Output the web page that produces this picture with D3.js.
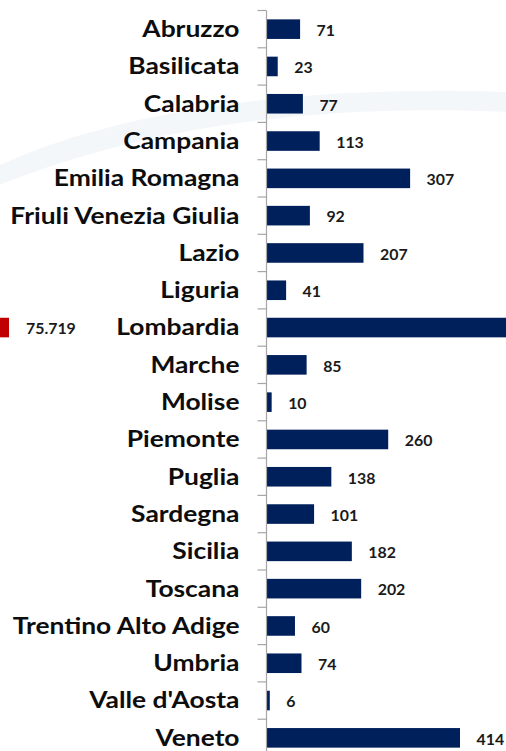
<!DOCTYPE html>
<html>
	<head>
		<meta charset="utf-8">
		<script src="https://cdnjs.cloudflare.com/ajax/libs/d3/7.8.5/d3.min.js" charset="utf-8"></script>
		<style>
			html, body { margin: 0; padding: 0; background: #ffffff; overflow: hidden; }
			.catLabel {
				font-family: 'Lato';
				font-size: 22px;
				font-weight: bold;
				fill: #0d0d0d;
			}
			.valLabel {
				font-family: 'Lato';
				font-size: 15px;
				font-weight: bold;
				fill: #1a1a1a;
			}
		</style>
	</head>
	<body>

		<div id="chart"></div>

		<script>

			///////////////////////////////////////////////////////////////////////////
			//////////////////////////////// Data /////////////////////////////////////
			///////////////////////////////////////////////////////////////////////////

			var regions = ["Abruzzo", "Basilicata", "Calabria", "Campania", "Emilia Romagna",
				"Friuli Venezia Giulia", "Lazio", "Liguria", "Lombardia", "Marche", "Molise",
				"Piemonte", "Puglia", "Sardegna", "Sicilia", "Toscana", "Trentino Alto Adige",
				"Umbria", "Valle d'Aosta", "Veneto"];
			var values = [71, 23, 77, 113, 307, 92, 207, 41, 75719, 85, 10, 260, 138, 101, 182, 202, 60, 74, 6, 414];
			var valueLabels = ["71", "23", "77", "113", "307", "92", "207", "41", "75.719", "85", "10",
				"260", "138", "101", "182", "202", "60", "74", "6", "414"];
			//the one bar that runs off the chart
			var outlier = "Lombardia";

			///////////////////////////////////////////////////////////////////////////
			//////////////////////////////// Setup ////////////////////////////////////
			///////////////////////////////////////////////////////////////////////////

			var width = 506,
				height = 751;
			var axisX = 266.5;
			//the source picture was stretched sideways a little
			var stretchCat = 1.2,
				stretchVal = 1.06;

			var svg = d3.select("#chart")
				.append("svg")
				.attr("width", width)
				.attr("height", height);

			var data = regions.map(function(r, i) {
				return { region: r, value: values[i], label: valueLabels[i] };
			});

			var y = d3.scaleBand()
				.domain(regions)
				.range([10.5, 10.5 + 37.3 * regions.length])
				.paddingInner(0.475)
				.paddingOuter(0.2375);

			var x = d3.scaleLinear()
				.domain([0, 414])
				.range([axisX + 0.5, 460]);

			//Faint watermark swoosh in the background
			svg.append("path")
				.attr("d", "M0,165 C120,110 300,85 506,92 L506,112 C320,104 150,125 0,185 Z")
				.style("fill", "#f4f7fa");

			///////////////////////////////////////////////////////////////////////////
			//////////////////////////////// Bars /////////////////////////////////////
			///////////////////////////////////////////////////////////////////////////

			svg.selectAll(".bar")
				.data(data)
				.enter().append("rect")
				.attr("class", "bar")
				.attr("x", x(0))
				.attr("y", function(d) { return y(d.region); })
				.attr("width", function(d) { return Math.min(x(d.value), width + 10) - x(0); })
				.attr("height", y.bandwidth())
				.style("fill", "#00205b");

			//Value labels
			svg.selectAll(".valLabel")
				.data(data.filter(function(d) { return d.region !== outlier; }))
				.enter().append("text")
				.attr("class", "valLabel")
				.attr("transform", function(d) {
					return "translate(" + (x(d.value) + 16.5) + "," + (y(d.region) + y.bandwidth() / 2) + ") scale(" + stretchVal + ",1)";
				})
				.attr("dy", "0.45em")
				.text(function(d) { return d.label; });

			//Outlier marker and label on the left
			var out = data.filter(function(d) { return d.region === outlier; })[0];
			svg.append("rect")
				.attr("x", 0)
				.attr("y", y(outlier))
				.attr("width", 9)
				.attr("height", y.bandwidth())
				.style("fill", "#c00000");
			svg.append("text")
				.attr("class", "valLabel")
				.attr("transform", "translate(26," + (y(outlier) + y.bandwidth() / 2) + ") scale(" + stretchVal + ",1)")
				.attr("dy", "0.45em")
				.text(out.label);

			///////////////////////////////////////////////////////////////////////////
			//////////////////////////////// Axis /////////////////////////////////////
			///////////////////////////////////////////////////////////////////////////

			var axis = svg.append("g").attr("class", "axis");

			axis.append("line")
				.attr("x1", axisX).attr("x2", axisX)
				.attr("y1", y.range()[0]).attr("y2", height)
				.style("stroke", "#a6a6a6")
				.style("stroke-width", 1.2);

			//Ticks between categories
			var tickPos = d3.range(regions.length + 1).map(function(i) { return y.range()[0] + i * y.step(); });
			axis.selectAll(".tick")
				.data(tickPos)
				.enter().append("line")
				.attr("x1", axisX - 9).attr("x2", axisX)
				.attr("y1", function(d) { return d; }).attr("y2", function(d) { return d; })
				.style("stroke", "#a6a6a6")
				.style("stroke-width", 1.2);

			//Category labels
			svg.selectAll(".catLabel")
				.data(regions)
				.enter().append("text")
				.attr("class", "catLabel")
				.attr("transform", function(d) {
					return "translate(239.5," + (y(d) + y.bandwidth() / 2) + ") scale(" + stretchCat + ",1)";
				})
				.attr("dy", "0.36em")
				.style("text-anchor", "end")
				.text(function(d) { return d; });

		</script>

	</body>
</html>
